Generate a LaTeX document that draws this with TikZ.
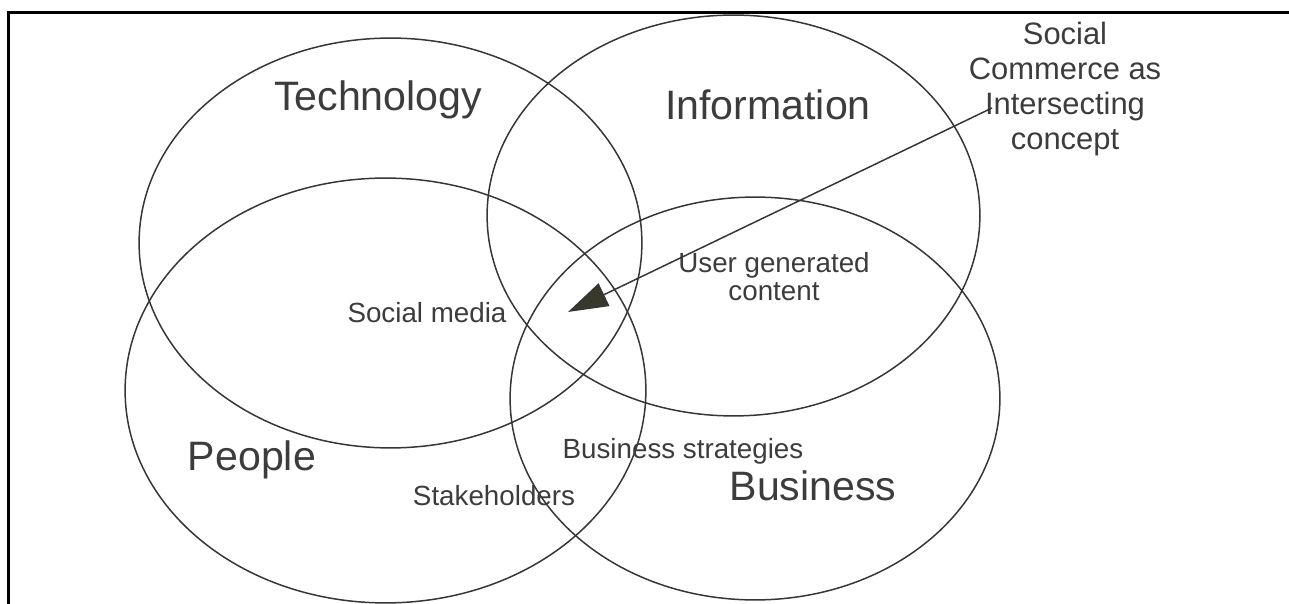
\documentclass[tikz,border=0pt]{standalone}
\usepackage{fontspec}
\setmainfont{Liberation Sans}
\usepackage{tikz}
\usetikzlibrary{arrows.meta,shapes.geometric}
\definecolor{vennline}{HTML}{363636}
\definecolor{venntext}{HTML}{3C3C3C}
\definecolor{arrowfill}{HTML}{38382B}
\tikzset{
  setnode/.style={draw=vennline,ellipse,line width=0.85pt,inner sep=0pt},
  setlabel/.style={text=venntext,font=\fontsize{23.4}{28}\selectfont,inner sep=0pt},
  partlabel/.style={text=venntext,font=\fontsize{15.8}{15.9}\selectfont,inner sep=0pt,align=center},
  notelabel/.style={text=venntext,font=\fontsize{17.6}{19.8}\selectfont,inner sep=0pt,align=center}
}

\begin{document}
\begin{tikzpicture}[x=0.02cm,y=-0.02cm]
  \useasboundingbox (0,0) rectangle (1289,604);
  % frame
  \draw[line width=1.4pt] (8.5,604) -- (8.5,12.5) -- (1289,12.5);
  % the four sets
  \foreach \name/\cx/\cy/\rx/\ry in {tech/390.5/243/251.5/205,info/733.5/215.5/246.5/200.5,
      people/385.5/390.5/260.5/212.5,business/755/398.5/245/201.5} {
    \node[setnode,minimum width={0.04cm*\rx},minimum height={0.04cm*\ry}] (\name) at (\cx,\cy) {};
  }

  \node[setlabel] (techlabel) at (378,100) {Technology};
  \node[setlabel] (infolabel) at (768,105) {Information};
  \node[setlabel] (peoplelabel) at (252,460) {People};
  \node[setlabel] (businesslabel) at (813,486) {Business};

  \node[partlabel] (socialmedia) at (427,313) {Social media};
  \node[partlabel] (ugc) at (774,277) {User generated\\content};
  \node[partlabel] (strategies) at (683,451) {Business strategies};
  \node[partlabel] (stakeholders) at (494,496) {Stakeholders};

  \node[notelabel] (concept) at (1065,89) {Social\\Commerce as\\Intersecting\\concept};
  \coordinate (arrowstart) at (992,108);
  \coordinate (arrowtip) at (568,312);
  \draw[vennline,line width=0.85pt,-{Triangle[length=0.8cm,width=0.5cm,fill=arrowfill]}] (arrowstart) -- (arrowtip);
\end{tikzpicture}
\end{document}
